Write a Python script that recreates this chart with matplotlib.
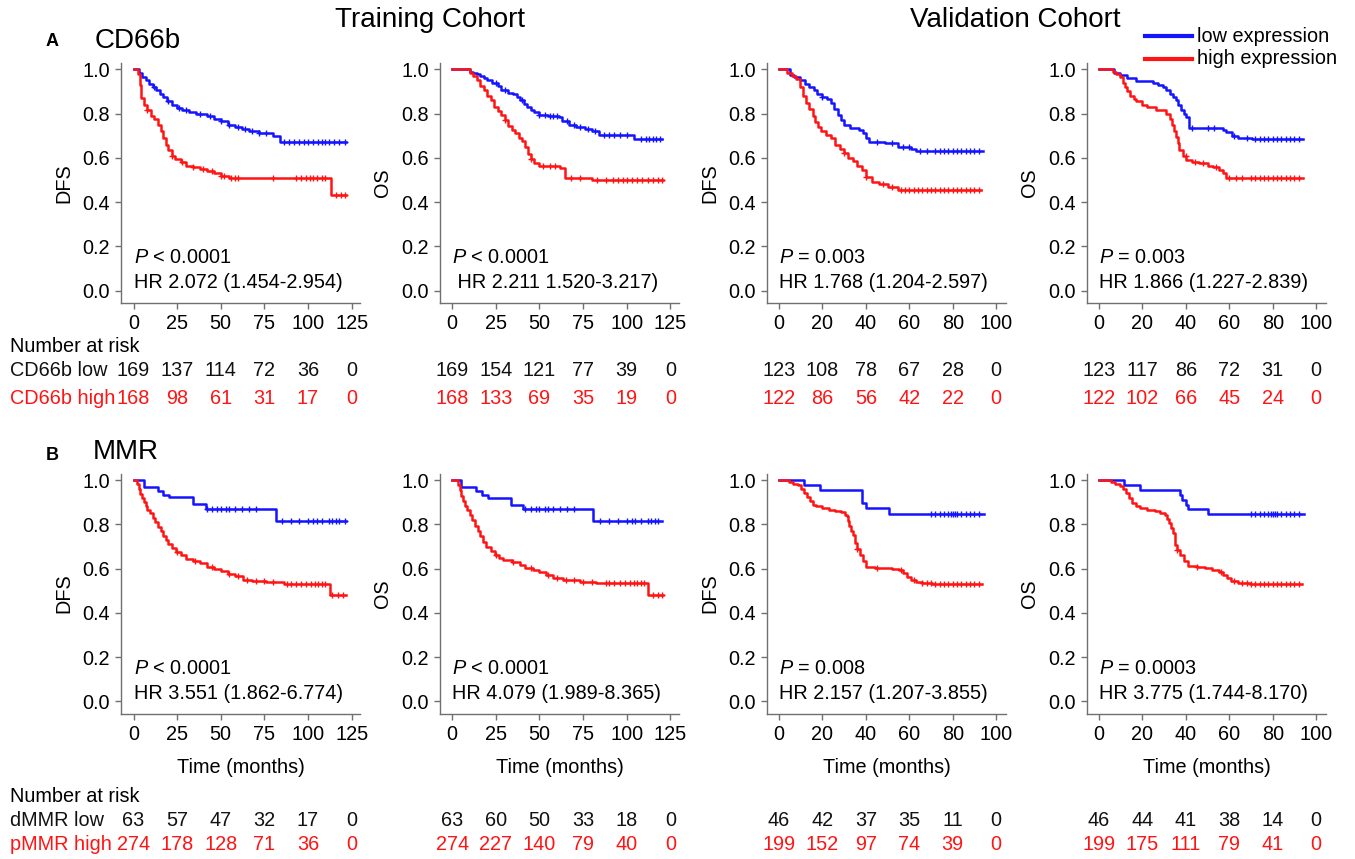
import numpy as np
import matplotlib.pyplot as plt
from matplotlib.lines import Line2D
from matplotlib.transforms import blended_transform_factory

plt.rcParams['font.family'] = ['Liberation Sans', 'DejaVu Sans']
plt.rcParams['mathtext.fontset'] = 'custom'
plt.rcParams['mathtext.it'] = 'Liberation Sans:italic'
plt.rcParams['mathtext.rm'] = 'Liberation Sans'

BLUE = '#1414ff'
RED = '#ff1414'
GREY = '#707070'

# ---- Kaplan-Meier step data (time of drop, survival after drop) ----
# row A: CD66b
a1_low_t = [0, 3, 5, 7, 9, 11, 13, 15, 17, 19, 22, 25, 28, 32, 36, 42, 46, 50, 54, 58, 62, 66, 72, 80, 84, 122]
a1_low_s = [1, .985, .965, .95, .935, .92, .905, .89, .875, .855, .84, .825, .815, .805, .80, .79, .775, .765, .75, .74, .73, .72, .71, .70, .67, .67]
a1_low_c = [12, 20, 26, 30, 38, 44, 50, 55, 60, 64, 68, 72, 76, 86, 89, 92, 95, 98, 100, 103, 106, 108, 110, 112, 115, 118, 121]
a1_high_t = [0, 2.5, 3.5, 4.5, 6, 8, 10, 12, 14, 15.5, 17, 18.5, 20, 22, 24, 27, 30, 34, 38, 42, 46, 50, 55, 113, 122]
a1_high_s = [1, .98, .93, .87, .84, .815, .79, .775, .75, .72, .69, .66, .635, .61, .595, .58, .565, .56, .55, .54, .53, .52, .51, .43, .43]
a1_high_c = [8, 22, 28, 34, 40, 45, 50, 52, 56, 58, 60, 80, 93, 96, 99, 101, 103, 105, 108, 110, 116, 119, 121]

a2_low_t = [0, 10, 12, 14, 16, 18, 20, 23, 26, 28, 32, 35, 37, 39, 41, 43, 45, 47, 50, 55, 61, 63, 67, 71, 76, 80, 84, 104, 120]
a2_low_s = [1, .99, .985, .98, .97, .96, .95, .94, .925, .905, .895, .89, .875, .86, .845, .83, .815, .805, .795, .79, .785, .765, .75, .74, .73, .72, .705, .685, .685]
a2_low_c = [25, 30, 40, 50, 53, 56, 58, 60, 66, 70, 73, 78, 82, 87, 90, 93, 96, 100, 108, 111, 113, 115, 117, 119]
a2_high_t = [0, 10, 12, 14, 16, 18, 20, 22, 24, 26, 28, 30, 32, 34, 36, 38, 40, 42, 43.5, 45, 47, 50, 62, 64.5, 80, 121]
a2_high_s = [1, .985, .97, .95, .925, .905, .88, .86, .83, .81, .795, .77, .745, .725, .71, .69, .675, .65, .615, .595, .575, .565, .555, .51, .50, .50]
a2_high_c = [30, 45, 52, 56, 59, 68, 73, 83, 88, 92, 95, 98, 100, 103, 106, 109, 112, 115, 118, 120]

a3_low_t = [0, 5, 7, 9.5, 12, 14, 16, 17.5, 20, 22, 24, 25.5, 27, 28.5, 30, 32.5, 37, 38.5, 40, 41.6, 49, 55, 61, 63, 94]
a3_low_s = [1, .975, .965, .95, .935, .92, .905, .89, .875, .865, .85, .82, .795, .77, .75, .735, .725, .71, .69, .67, .665, .65, .64, .63, .63]
a3_low_c = [20, 45, 52, 57, 60, 65, 68, 72, 74, 76, 78, 80, 82, 84, 86, 88, 90, 92]
a3_high_t = [0, 3.5, 6, 8, 9.6, 11, 12.5, 14, 15.5, 16.5, 18, 19.5, 21.5, 24, 26, 28, 30, 32, 34, 36, 38, 40, 43, 46, 50, 55, 93]
a3_high_s = [1, .985, .97, .955, .92, .88, .85, .82, .79, .76, .74, .72, .705, .69, .66, .64, .62, .60, .585, .565, .545, .515, .49, .48, .47, .455, .455]
a3_high_c = [30, 40, 48, 52, 56, 58, 60, 62, 64, 66, 68, 70, 72, 74, 76, 78, 80, 82, 84, 86, 88, 90, 92]

a4_low_t = [0, 7, 9.6, 12.7, 17, 25, 27, 29.4, 31, 32.5, 34, 35.5, 36.5, 37.8, 39, 40.1, 41.6, 57, 58.4, 61.4, 64, 70.6, 94]
a4_low_s = [1, .985, .975, .96, .948, .937, .93, .92, .905, .89, .875, .86, .84, .815, .80, .785, .735, .725, .715, .70, .69, .683, .683]
a4_low_c = [43, 50, 53, 62, 68, 72, 74, 76, 78, 80, 82, 84, 86, 88, 90, 92]
a4_high_t = [0, 6.6, 8, 9.6, 11, 12, 13, 14.2, 16, 17.2, 20, 22, 26.4, 31, 32.5, 33.5, 34.5, 35.5, 36.3, 37, 38.5, 40.1, 43, 46.2, 50, 52.3, 55.3, 57, 58.4, 94]
a4_high_s = [1, .99, .98, .965, .94, .92, .90, .88, .865, .855, .84, .83, .815, .80, .775, .75, .72, .695, .665, .635, .61, .59, .58, .575, .565, .56, .545, .53, .508, .508]
a4_high_c = [40, 44, 48, 54, 60, 63, 66, 70, 72, 74, 76, 78, 80, 82, 84, 86, 88, 90, 92]

# row B: MMR
b1_low_t = [0, 6, 13.8, 16.7, 20.5, 33.9, 41.6, 81.8, 122]
b1_low_s = [1, .97, .95, .935, .923, .892, .871, .817, .817]
b1_low_c = [42, 45, 48, 50, 53, 55, 58, 62, 66, 70, 85, 90, 95, 100, 103, 105, 108, 112, 114, 116, 118, 121]
b1_high_t = [0, 2, 3, 4, 5, 6, 7, 8, 9.5, 11, 12.5, 14, 15.5, 17, 18.5, 20, 22, 24.5, 27, 30, 34, 38, 42, 46, 50, 54, 58, 63, 68, 76, 86, 112.5, 122]
b1_high_s = [1, .985, .96, .94, .92, .90, .885, .865, .85, .83, .81, .79, .77, .75, .73, .71, .695, .675, .66, .645, .635, .625, .61, .60, .59, .575, .565, .55, .545, .54, .533, .48, .48]
b1_high_c = [25, 35, 45, 55, 60, 65, 70, 75, 80, 88, 90, 93, 96, 99, 102, 104, 106, 108, 110, 114, 117, 120]

b2_low_t = [0, 5.3, 13.9, 16.8, 20.6, 33.9, 40.6, 80.6, 120]
b2_low_s = [1, .97, .95, .935, .92, .89, .871, .817, .817]
b2_low_c = [42, 45, 48, 50, 53, 55, 58, 62, 66, 70, 85, 90, 95, 100, 103, 105, 108, 112, 114, 116, 118]
b2_high_t = [0, 3.4, 4.3, 5.3, 6.2, 7.2, 8.5, 10.1, 11.5, 13, 14.5, 15.8, 17.5, 19.6, 22, 24.4, 27, 29.1, 34, 38.7, 42, 46.3, 50, 53.9, 58, 63.4, 73, 82.5, 112, 121]
b2_high_s = [1, .98, .955, .927, .905, .882, .865, .844, .82, .791, .77, .746, .72, .70, .68, .663, .65, .64, .63, .617, .605, .595, .585, .572, .56, .549, .542, .534, .481, .481]
b2_high_c = [25, 35, 45, 55, 60, 65, 70, 75, 80, 88, 90, 93, 96, 99, 102, 104, 106, 108, 110, 115, 118, 120]

b3_low_t = [0, 11.4, 19, 38, 40, 50.5, 94.3]
b3_low_s = [1, .98, .958, .897, .874, .849, .849]
b3_low_c = [70, 72, 74, 76, 78, 79, 80, 81, 82, 84, 86, 88, 90, 92]
b3_high_t = [0, 4.8, 6.5, 8.6, 10, 11.4, 12.8, 14.3, 15.7, 17.1, 20, 22.9, 26, 28.6, 30.5, 31.4, 32, 32.4, 33.3, 34.3, 35.2, 36, 37.1, 38.5, 40, 44, 47.6, 52, 55.2, 57, 59, 61, 62.9, 66, 70.5, 93.3]
b3_high_s = [1, .99, .985, .98, .96, .942, .925, .905, .89, .882, .874, .867, .86, .855, .845, .837, .815, .791, .77, .753, .716, .69, .663, .635, .61, .605, .602, .598, .595, .58, .564, .55, .542, .535, .531, .531]
b3_high_c = [36, 45, 56, 62, 66, 68, 70, 72, 74, 76, 78, 80, 82, 84, 86, 88, 90, 92]

b4_low_t = [0, 11.4, 19, 37.1, 38, 40, 41, 50.1, 94.3]
b4_low_s = [1, .98, .958, .935, .912, .889, .871, .849, .849]
b4_low_c = [70, 72, 74, 76, 78, 79, 80, 81, 82, 84, 86, 88, 90, 92]
b4_high_t = [0, 5.7, 7.5, 9.5, 11, 12.4, 13.8, 15.2, 17, 19, 22, 25.7, 28, 30.5, 31.5, 32.4, 33.3, 34.3, 35.2, 36, 37.1, 39, 41, 45, 48.6, 52, 55.2, 57, 59, 61, 63.8, 69.5, 93.3]
b4_high_s = [1, .99, .985, .973, .96, .942, .92, .897, .885, .874, .866, .859, .852, .844, .825, .806, .785, .761, .708, .685, .663, .635, .613, .607, .602, .595, .587, .572, .557, .545, .537, .531, .531]
b4_high_c = [36, 45, 56, 62, 66, 68, 70, 72, 74, 76, 78, 80, 82, 84, 86, 88, 90, 92]

# ---- numbers at risk ----
train_ticks = [0, 25, 50, 75, 100, 125]
valid_ticks = [0, 20, 40, 60, 80, 100]
y_ticks = [0.0, 0.2, 0.4, 0.6, 0.8, 1.0]

a1_risk_low = [169, 137, 114, 72, 36, 0]
a1_risk_high = [168, 98, 61, 31, 17, 0]
a2_risk_low = [169, 154, 121, 77, 39, 0]
a2_risk_high = [168, 133, 69, 35, 19, 0]
a3_risk_low = [123, 108, 78, 67, 28, 0]
a3_risk_high = [122, 86, 56, 42, 22, 0]
a4_risk_low = [123, 117, 86, 72, 31, 0]
a4_risk_high = [122, 102, 66, 45, 24, 0]
b1_risk_low = [63, 57, 47, 32, 17, 0]
b1_risk_high = [274, 178, 128, 71, 36, 0]
b2_risk_low = [63, 60, 50, 33, 18, 0]
b2_risk_high = [274, 227, 140, 79, 40, 0]
b3_risk_low = [46, 42, 37, 35, 11, 0]
b3_risk_high = [199, 152, 97, 74, 39, 0]
b4_risk_low = [46, 44, 41, 38, 14, 0]
b4_risk_high = [199, 175, 111, 79, 41, 0]

p_texts = ['< 0.0001', '< 0.0001', '= 0.003', '= 0.003',
           '< 0.0001', '< 0.0001', '= 0.008', '= 0.0003']
hr_texts = ['HR 2.072 (1.454-2.954)', ' HR 2.211 1.520-3.217)', 'HR 1.768 (1.204-2.597)', 'HR 1.866 (1.227-2.839)',
            'HR 3.551 (1.862-6.774)', 'HR 4.079 (1.989-8.365)', 'HR 2.157 (1.207-3.855)', 'HR 3.775 (1.744-8.170)']
y_labels = ['DFS', 'OS', 'DFS', 'OS']

curves = [
    (a1_low_t, a1_low_s, a1_low_c, a1_high_t, a1_high_s, a1_high_c, a1_risk_low, a1_risk_high),
    (a2_low_t, a2_low_s, a2_low_c, a2_high_t, a2_high_s, a2_high_c, a2_risk_low, a2_risk_high),
    (a3_low_t, a3_low_s, a3_low_c, a3_high_t, a3_high_s, a3_high_c, a3_risk_low, a3_risk_high),
    (a4_low_t, a4_low_s, a4_low_c, a4_high_t, a4_high_s, a4_high_c, a4_risk_low, a4_risk_high),
    (b1_low_t, b1_low_s, b1_low_c, b1_high_t, b1_high_s, b1_high_c, b1_risk_low, b1_risk_high),
    (b2_low_t, b2_low_s, b2_low_c, b2_high_t, b2_high_s, b2_high_c, b2_risk_low, b2_risk_high),
    (b3_low_t, b3_low_s, b3_low_c, b3_high_t, b3_high_s, b3_high_c, b3_risk_low, b3_risk_high),
    (b4_low_t, b4_low_s, b4_low_c, b4_high_t, b4_high_s, b4_high_c, b4_risk_low, b4_risk_high),
]

W, H = 1355, 859
fig = plt.figure(figsize=(W / 100, H / 100), dpi=100)

col_left = [121.3, 440, 767, 1087]
row_bottom = [302.7, 713.6]
ax_w = 239 / W
ax_h = 240 / H
risk_rows = [(346, 371, 398), (797, 821, 845)]
risk_names = [('CD66b low', 'CD66b high'), ('dMMR low', 'pMMR high')]

FS = 14.3


def km(ax, t, s, c, color):
    t = np.array(t, float)
    s = np.array(s, float)
    ax.step(t, s, where='post', color=color, lw=1.8)
    c = np.array(c, float)
    idx = np.searchsorted(t, c, side='right') - 1
    ax.plot(c, s[idx], '+', color=color, ms=4.5, mew=1.0)


for k, data in enumerate(curves):
    row, col = divmod(k, 4)
    lt, ls, lc, ht, hs, hc, rl, rh = data
    ax = fig.add_axes([col_left[col] / W, 1 - row_bottom[row] / H, ax_w, ax_h])
    km(ax, lt, ls, lc, BLUE)
    km(ax, ht, hs, hc, RED)

    ticks = train_ticks if col < 2 else valid_ticks
    if col < 2:
        ax.set_xlim(-7, 130)
    else:
        ax.set_xlim(-5.5, 104.5)
    ax.set_ylim(-0.055, 1.03)
    ax.set_xticks(ticks)
    ax.set_yticks(y_ticks)
    ax.set_yticklabels(['%.1f' % v for v in y_ticks])
    for sp in ['top', 'right']:
        ax.spines[sp].set_visible(False)
    for sp in ['left', 'bottom']:
        ax.spines[sp].set_color(GREY)
        ax.spines[sp].set_linewidth(1.0)
    ax.tick_params(direction='out', length=4, width=1, color=GREY, labelsize=FS, pad=4)
    ax.set_ylabel(y_labels[col], fontsize=FS)
    ax.yaxis.set_label_coords(-0.2, 0.5)
    if row == 1:
        ax.set_xlabel('Time (months)', fontsize=FS, labelpad=10)

    ax.text(0, 0.15, r'$P$ ' + p_texts[k], fontsize=FS, va='center', ha='left')
    ax.text(0, 0.035, hr_texts[k], fontsize=FS, va='center', ha='left')

    tr = blended_transform_factory(ax.transData, fig.transFigure)
    y_head, y_low, y_high = risk_rows[row]
    for x, v in zip(ticks, rl):
        ax.text(x, 1 - y_low / H, str(v), transform=tr, fontsize=FS, ha='center', va='center', color='#111111')
    for x, v in zip(ticks, rh):
        ax.text(x, 1 - y_high / H, str(v), transform=tr, fontsize=FS, ha='center', va='center', color=RED)
    if col == 0:
        fig.text(10 / W, 1 - y_head / H, 'Number at risk', fontsize=FS, va='center', ha='left')
        fig.text(10 / W, 1 - y_low / H, risk_names[row][0], fontsize=FS, va='center', ha='left', color='#111111')
        fig.text(10 / W, 1 - y_high / H, risk_names[row][1], fontsize=FS, va='center', ha='left', color=RED)

# titles and panel letters
fig.text(430 / W, 1 - 20 / H, 'Training Cohort', fontsize=20, ha='center', va='center')
fig.text(1015 / W, 1 - 20 / H, 'Validation Cohort', fontsize=20, ha='center', va='center')
fig.text(46 / W, 1 - 41 / H, 'A', fontsize=13, fontweight='bold', ha='left', va='center')
fig.text(95 / W, 1 - 41 / H, 'CD66b', fontsize=20, ha='left', va='center')
fig.text(46 / W, 1 - 455 / H, 'B', fontsize=13, fontweight='bold', ha='left', va='center')
fig.text(93 / W, 1 - 452 / H, 'MMR', fontsize=20, ha='left', va='center')

# legend
fig.add_artist(Line2D([1145 / W, 1192 / W], [1 - 36 / H, 1 - 36 / H], color=BLUE, lw=3, transform=fig.transFigure))
fig.add_artist(Line2D([1145 / W, 1192 / W], [1 - 59 / H, 1 - 59 / H], color=RED, lw=3, transform=fig.transFigure))
fig.text(1197 / W, 1 - 36 / H, 'low expression', fontsize=FS, va='center', ha='left')
fig.text(1197 / W, 1 - 59 / H, 'high expression', fontsize=FS, va='center', ha='left')

fig.savefig('out.png', dpi=100)
